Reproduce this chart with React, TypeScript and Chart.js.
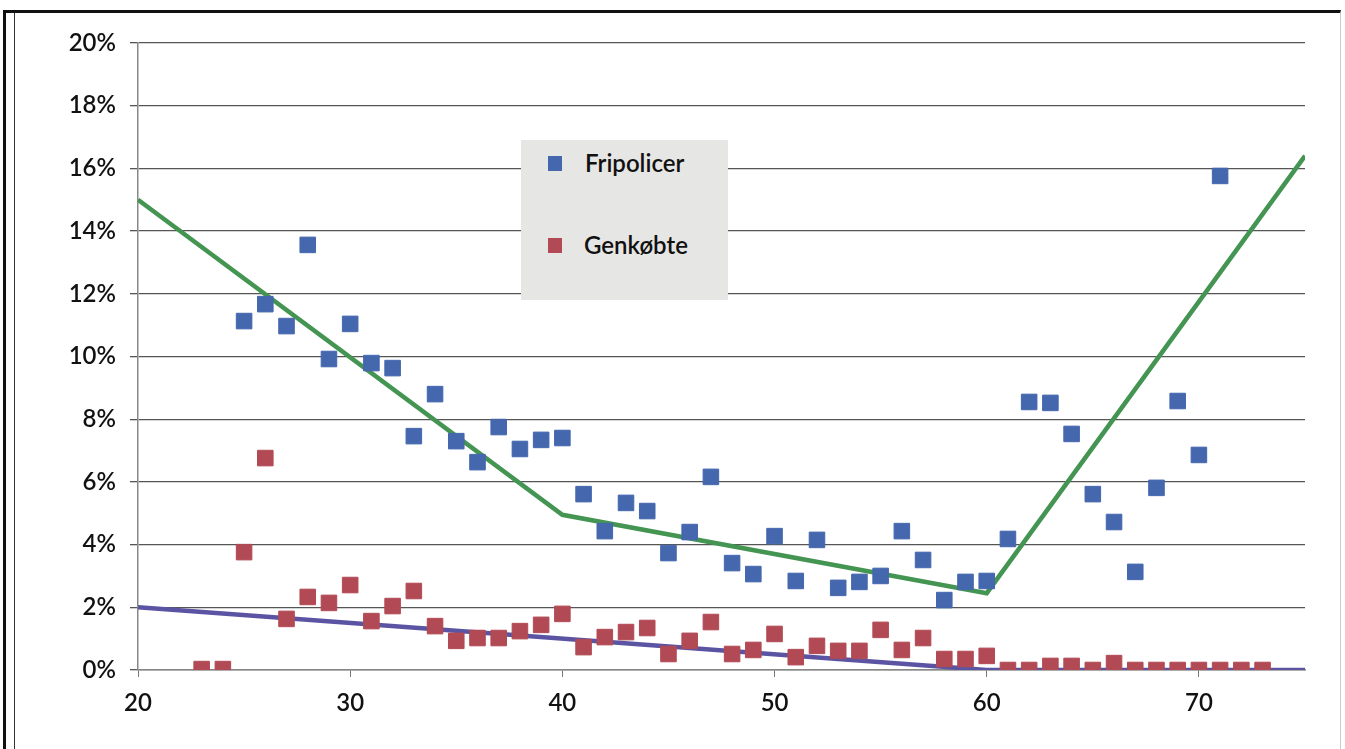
import React, { useEffect, useRef } from "react";
import { Chart, registerables } from "chart.js";

Chart.register(...registerables);

const fripoAges = [25,26,27,28,29,30,31,32,33,34,35,36,37,38,39,40,41,42,43,44,45,46,47,48,49,50,51,52,53,54,55,56,57,58,59,60,61,62,63,64,65,66,67,68,69,70,71];
const fripoValues = [11.13,11.67,10.97,13.56,9.92,11.04,9.79,9.63,7.46,8.8,7.3,6.63,7.75,7.05,7.34,7.4,5.61,4.43,5.33,5.07,3.73,4.4,6.16,3.41,3.06,4.27,2.84,4.15,2.62,2.81,3.0,4.43,3.51,2.23,2.81,2.84,4.18,8.55,8.52,7.53,5.61,4.72,3.13,5.81,8.58,6.86,15.76];

const genAges = [23,24,25,26,27,28,29,30,31,32,33,34,35,36,37,38,39,40,41,42,43,44,45,46,47,48,49,50,51,52,53,54,55,56,57,58,59,60,61,62,63,64,65,66,67,68,69,70,71,72,73];
const genValues = [0.03,0.03,3.76,6.76,1.63,2.33,2.14,2.71,1.56,2.04,2.52,1.4,0.93,1.02,1.02,1.24,1.44,1.79,0.73,1.05,1.21,1.34,0.51,0.93,1.53,0.51,0.64,1.15,0.41,0.77,0.61,0.61,1.28,0.64,1.02,0.35,0.35,0.45,0,0,0.13,0.13,0,0.22,0,0,0,0,0,0,0];

const greenLineX = [20,40,60,75];
const greenLineY = [15,4.95,2.45,16.4];
const purpleLineX = [20,60,75];
const purpleLineY = [2,0,0];

const legendLabels = ["Fripolicer", "Genkøbte"];
const xTickValues = [20,30,40,50,60,70];

const BLUE = "#4467ae";
const RED = "#b24a55";
const GREEN = "#449452";
const PURPLE = "#5a54a3";
const FONT = "Lato, 'Open Sans', sans-serif";

export default function App() {
  const ref = useRef<HTMLCanvasElement | null>(null);

  useEffect(() => {
    document.body.style.margin = "0";
    const toPts = (xs: number[], ys: number[]) => xs.map((x, i) => ({ x, y: ys[i] }));
    const chart = new Chart(ref.current!, {
      type: "scatter",
      data: {
        datasets: [
          {
            type: "line",
            label: "green",
            data: toPts(greenLineX, greenLineY),
            borderColor: GREEN,
            borderWidth: 4.5,
            pointRadius: 0,
            showLine: true,
            order: 2,
          },
          {
            type: "line",
            label: "purple",
            data: toPts(purpleLineX, purpleLineY),
            borderColor: PURPLE,
            borderWidth: 4.5,
            pointRadius: 0,
            showLine: true,
            order: 2,
          },
          {
            label: legendLabels[0],
            data: toPts(fripoAges, fripoValues),
            backgroundColor: BLUE,
            borderColor: BLUE,
            pointStyle: "rect",
            pointRadius: 11,
            order: 1,
          },
          {
            label: legendLabels[1],
            data: toPts(genAges, genValues),
            backgroundColor: RED,
            borderColor: RED,
            pointStyle: "rect",
            pointRadius: 11,
            order: 1,
          },
        ],
      },
      options: {
        animation: false,
        responsive: false,
        layout: { padding: { left: 0, right: 40, top: 43, bottom: 0 } },
        plugins: { legend: { display: false }, tooltip: { enabled: false } },
        scales: {
          x: {
            type: "linear",
            min: 20,
            max: 75,
            afterBuildTicks: (axis: any) => {
              axis.ticks = xTickValues.map((v) => ({ value: v }));
            },
            grid: { drawOnChartArea: false, drawTicks: true, tickLength: 7, color: "#777" },
            border: { display: true, color: "#888", width: 1.5 },
            ticks: { color: "#111", font: { family: FONT, size: 24, weight: 600 }, padding: 12 },
            afterFit: (axis: any) => { axis.height = 79; },
          },
          y: {
            min: 0,
            max: 20,
            ticks: {
              stepSize: 2,
              color: "#111",
              font: { family: FONT, size: 24, weight: 600 },
              padding: 14,
              callback: (v: any) => v + "%",
            },
            grid: { color: "#555", lineWidth: 1.3, tickLength: 8 },
            border: { display: true, color: "#888", width: 1.5 },
            afterFit: (axis: any) => { axis.width = 138; },
          },
        },
      },
    });
    return () => chart.destroy();
  }, []);

  return (
    <div style={{ position: "relative", width: 1345, height: 749, background: "#fff", overflow: "hidden" }}>
      <canvas ref={ref} width={1345} height={749} style={{ position: "absolute", left: 0, top: 0 }} />
      <div style={{ position: "absolute", left: 3, top: 10, width: 1334, height: 800, borderLeft: "3px solid #111", borderTop: "3px solid #111", borderRight: "1px solid #ccc" }} />
      <div style={{ position: "absolute", left: 14, top: 13, width: 1, height: 740, background: "#333" }} />
      <div
        style={{
          position: "absolute",
          left: 521,
          top: 140,
          width: 207,
          height: 160,
          background: "#e6e6e4",
          fontFamily: FONT,
          fontSize: 24,
          color: "#111",
        }}
      >
        <div style={{ position: "absolute", left: 27, top: 16, width: 14, height: 15, background: BLUE }} />
        <div style={{ position: "absolute", left: 64, top: 8, lineHeight: "30px", fontWeight: 600 }}>{legendLabels[0]}</div>
        <div style={{ position: "absolute", left: 27, top: 98, width: 14, height: 15, background: RED }} />
        <div style={{ position: "absolute", left: 63, top: 90, lineHeight: "30px", fontWeight: 600 }}>{legendLabels[1]}</div>
      </div>
    </div>
  );
}
